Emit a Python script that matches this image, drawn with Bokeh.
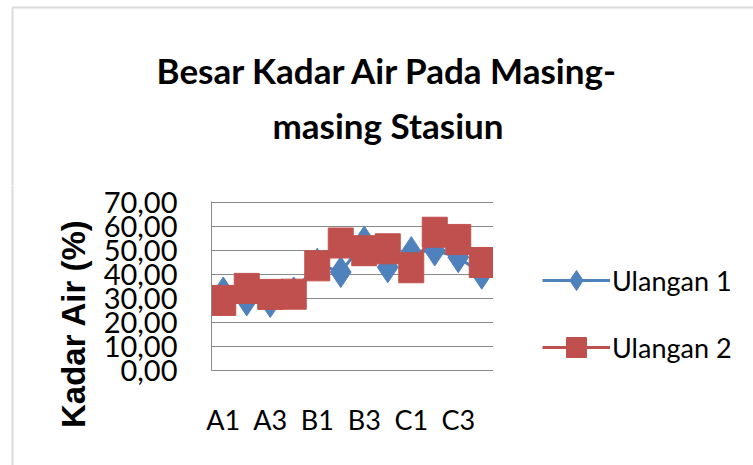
import numpy as np
from bokeh.plotting import figure
from bokeh.layouts import column, row
from bokeh.models import Range1d, FixedTicker, Legend, LegendItem, Label, BoxAnnotation
from bokeh.embed import file_html
from bokeh.resources import INLINE

# ---- data ----
stations = ["A1", "A2", "A3", "A4", "B1", "B2", "B3", "B4", "C1", "C2", "C3", "C4"]
ulangan1 = [32.5, 29.2, 28.5, 32.5, 44.5, 41.0, 53.7, 43.0, 49.3, 50.0, 47.2, 40.3]
ulangan2 = [29.2, 34.2, 31.7, 31.8, 43.6, 53.1, 49.9, 50.7, 42.8, 57.6, 54.6, 45.0]
series_names = ["Ulangan 1", "Ulangan 2"]
y_ticks = [0, 10, 20, 30, 40, 50, 60, 70]
y_tick_labels = ["0,00", "10,00", "20,00", "30,00", "40,00", "50,00", "60,00", "70,00"]
x_tick_labels = ["A1", "A3", "B1", "B3", "C1", "C3"]
title_lines = ["Besar Kadar Air Pada Masing-", "masing Stasiun"]
y_title = "Kadar Air (%)"

BLUE = "#4F81BD"
RED = "#C0504D"
GRID = "#8a8a8a"
FRAME = "#888888"

x = np.arange(len(stations)) + 0.5
x_tick_pos = [float(x[stations.index(s)]) for s in x_tick_labels]


def no_align(f):
    if "frame_align" in f.properties():
        f.frame_align = False
    return f


def blank(width, height):
    f = figure(width=width, height=height, output_backend="svg", toolbar_location=None,
               x_range=Range1d(0, width), y_range=Range1d(0, height),
               x_axis_location=None, y_axis_location=None, min_border=0)
    f.outline_line_color = None
    f.grid.grid_line_color = None
    f.border_fill_color = "white"
    f.background_fill_color = "white"
    return no_align(f)


# ---- title strip ----
pt = blank(753, 185)
pt.add_layout(BoxAnnotation(left=12, right=2000, top=178, bottom=-500, fill_alpha=0,
                            line_color=FRAME, line_width=2))
for line, ym in zip(title_lines, [116, 61]):
    pt.add_layout(Label(x=387.5, y=ym, text=line, text_align="center",
                        text_baseline="middle", text_font="Lato",
                        text_font_style="bold", text_font_size="35px", text_color="black"))

# ---- vertical axis title strip ----
py = blank(100, 280)
py.add_layout(BoxAnnotation(left=12, right=2000, top=2000, bottom=-500, fill_alpha=0,
                            line_color=FRAME, line_width=2))
py.add_layout(Label(x=73, y=142, text=y_title, angle=np.pi / 2, text_align="center",
                    text_baseline="middle", text_font="Liberation Sans",
                    text_font_style="bold", text_font_size="33px", text_color="black"))

# ---- main chart ----
p = figure(width=393, height=280, output_backend="svg", toolbar_location=None,
           x_range=Range1d(0, len(stations)), y_range=Range1d(0, 70.4),
           min_border_left=107, min_border_right=0, min_border_top=16, min_border_bottom=95)
no_align(p)
p.outline_line_color = None
p.background_fill_color = "white"
p.border_fill_color = "white"

p.xaxis.ticker = FixedTicker(ticks=x_tick_pos)
p.xaxis.major_label_overrides = {t: l for t, l in zip(x_tick_pos, x_tick_labels)}
p.xaxis.major_tick_out = 0
p.xaxis.major_tick_in = 0
p.xaxis.minor_tick_line_color = None
p.xaxis.axis_line_color = GRID
p.xaxis.major_label_text_font = "Lato"
p.xaxis.major_label_text_font_size = "27px"
p.xaxis.major_label_text_color = "black"
p.xaxis.major_label_standoff = 32

p.yaxis.ticker = FixedTicker(ticks=y_ticks)
p.yaxis.major_label_overrides = {t: l for t, l in zip(y_ticks, y_tick_labels)}
p.yaxis.major_tick_out = 0
p.yaxis.major_tick_in = 0
p.yaxis.minor_tick_line_color = None
p.yaxis.axis_line_color = GRID
p.yaxis.major_label_text_font = "Lato"
p.yaxis.major_label_text_font_size = "29px"
p.yaxis.major_label_text_color = "black"
p.yaxis.major_label_standoff = 34

p.xgrid.grid_line_color = None
p.ygrid.grid_line_color = GRID
p.ygrid.grid_line_width = 1

p.line(x, ulangan1, line_color=BLUE, line_width=3)
p.scatter(x, ulangan1, marker="diamond", size=31, fill_color=BLUE, line_color=BLUE)
p.line(x, ulangan2, line_color=RED, line_width=3)
p.rect(x, ulangan2, width=25, height=30, width_units="screen", height_units="screen",
       fill_color=RED, line_color=RED)

# ---- legend strip ----
pl = blank(260, 280)
ll1 = pl.line(x, ulangan1, line_color=BLUE, line_width=3, visible=False)
lm1 = pl.scatter(x, ulangan1, marker="diamond", fill_color=BLUE, line_color=BLUE, visible=False)
ll2 = pl.line(x, ulangan2, line_color=RED, line_width=3, visible=False)
lm2 = pl.scatter(x, ulangan2, marker="square", fill_color=RED, line_color=RED, visible=False)
legend = Legend(items=[LegendItem(label=series_names[0], renderers=[ll1, lm1]),
                       LegendItem(label=series_names[1], renderers=[ll2, lm2])],
                location=(49, 93), padding=0, margin=0, spacing=17, glyph_width=68,
                glyph_height=50, label_height=50, label_standoff=2, label_text_font="Lato",
                label_text_font_size="27px", label_text_color="black",
                border_line_color=None, background_fill_alpha=0, inactive_fill_alpha=0)
pl.add_layout(legend, "center")

layout = column(pt, row(py, p, pl))
open("out.html", "w").write(file_html(layout, INLINE))
